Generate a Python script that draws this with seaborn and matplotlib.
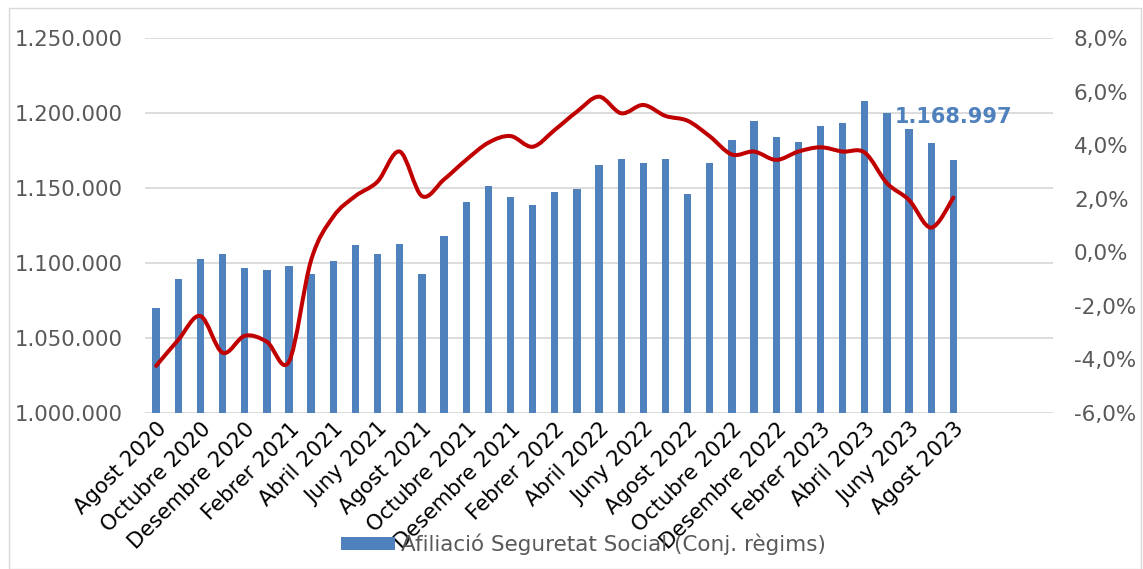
import numpy as np
import pandas as pd
import seaborn as sns
import matplotlib.pyplot as plt
from matplotlib.path import Path
from matplotlib.patches import PathPatch, Rectangle
from matplotlib.ticker import FuncFormatter

# Data
month_names = ['Gener', 'Febrer', 'Març', 'Abril', 'Maig', 'Juny', 'Juliol',
               'Agost', 'Setembre', 'Octubre', 'Novembre', 'Desembre']
months = []
for i in range(37):
    m = (7 + i) % 12
    y = 2020 + (7 + i) // 12
    months.append(f'{month_names[m]} {y}')

afiliacio = [1069800, 1089100, 1102900, 1105800, 1096700, 1095300, 1098000,
             1092700, 1101300, 1111800, 1106000, 1112900, 1092700, 1117800,
             1140700, 1151300, 1144200, 1138700, 1147100, 1149500, 1165100,
             1169100, 1166900, 1169100, 1146000, 1166900, 1182200, 1194500,
             1183800, 1180900, 1191500, 1193100, 1208200, 1199800, 1189300,
             1179800, 1168997]

variacio = [-4.24, -3.27, -2.38, -3.75, -3.12, -3.34, -4.08, -0.29, 1.33, 2.1,
            2.64, 3.76, 2.1, 2.72, 3.45, 4.09, 4.34, 3.94, 4.57, 5.25, 5.81,
            5.19, 5.5, 5.09, 4.91, 4.33, 3.65, 3.76, 3.45, 3.76, 3.92, 3.76,
            3.72, 2.58, 1.95, 0.92, 2.04]

left_ticks = [1000000, 1050000, 1100000, 1150000, 1200000, 1250000]
right_ticks = [-6, -4, -2, 0, 2, 4, 6, 8]

bar_color = '#4F81BD'
line_color = '#C00000'
grey = '#595959'

sns.set_style('white')
plt.rcParams['font.family'] = ['DejaVu Sans']

fig = plt.figure(figsize=(11.43, 5.69), dpi=100)
ax = fig.add_axes([0.1269, 0.2742, 0.7944, 0.659])

df = pd.DataFrame({'mes': months, 'afiliacio': afiliacio})
sns.barplot(data=df, x='mes', y='afiliacio', ax=ax, color=bar_color,
            saturation=1, width=0.33, linewidth=0,
            label='Afiliació Seguretat Social (Conj. règims)', legend=False)

ax.set_xlim(-0.5, 40.5)
ax.set_ylim(1000000, 1250000)
ax.set_yticks(left_ticks)
ax.yaxis.set_major_formatter(FuncFormatter(lambda v, p: f'{int(v):,}'.replace(',', '.')))
ax.grid(axis='y', color='#D9D9D9', linewidth=1.3)
ax.set_axisbelow(True)
for s in ax.spines.values():
    s.set_visible(False)
ax.set_xlabel('')
ax.set_ylabel('')
ax.set_xticks(range(0, 37, 2))
ax.set_xticklabels(months[::2], rotation=45, ha='right', rotation_mode='anchor',
                   fontsize=15.3, color='black')
ax.tick_params(axis='y', labelsize=15.3, labelcolor=grey, length=0, pad=16)
ax.tick_params(axis='x', length=0, pad=4)

# secondary axis: smoothed line (Bezier through the monthly points)
ax2 = ax.twinx()
ax2.set_ylim(-6, 8)
ax2.set_yticks(right_ticks)
ax2.yaxis.set_major_formatter(FuncFormatter(lambda v, p: f'{v:.1f}%'.replace('.', ',')))
ax2.tick_params(axis='y', labelsize=15.5, labelcolor=grey, length=0, pad=15)
for s in ax2.spines.values():
    s.set_visible(False)
ax2.grid(False)

xs = np.arange(len(variacio), dtype=float)
ys = np.array(variacio)
verts = [(xs[0], ys[0])]
codes = [Path.MOVETO]
n = len(xs)
for i in range(n - 1):
    p0 = np.array([xs[max(i - 1, 0)], ys[max(i - 1, 0)]])
    p1 = np.array([xs[i], ys[i]])
    p2 = np.array([xs[i + 1], ys[i + 1]])
    p3 = np.array([xs[min(i + 2, n - 1)], ys[min(i + 2, n - 1)]])
    c1 = p1 + (p2 - p0) / 6
    c2 = p2 - (p3 - p1) / 6
    verts += [tuple(c1), tuple(c2), tuple(p2)]
    codes += [Path.CURVE4] * 3
ax2.add_patch(PathPatch(Path(verts, codes), facecolor='none', edgecolor=line_color,
                        linewidth=2.9, capstyle='round', joinstyle='round'))

# data label on the last bar
ax.annotate(f'{afiliacio[-1]:,}'.replace(',', '.'), xy=(len(afiliacio) - 1, afiliacio[-1]),
            xytext=(0, 43), textcoords='offset pixels', ha='center', va='center',
            fontsize=15, fontweight='bold', color=bar_color)

handles, labels = ax.get_legend_handles_labels()
leg = fig.legend(handles[:1], labels[:1], loc='center', bbox_to_anchor=(0.5105, 0.044),
                 frameon=False, fontsize=15.5, handlelength=2.5, handleheight=0.55,
                 handletextpad=0.25, labelcolor=grey)

fig.patches.append(Rectangle((0.008, 0.0), 0.99, 0.986, transform=fig.transFigure,
                             fill=False, edgecolor='#D9D9D9', linewidth=1))

fig.savefig('out.png', dpi=100)
